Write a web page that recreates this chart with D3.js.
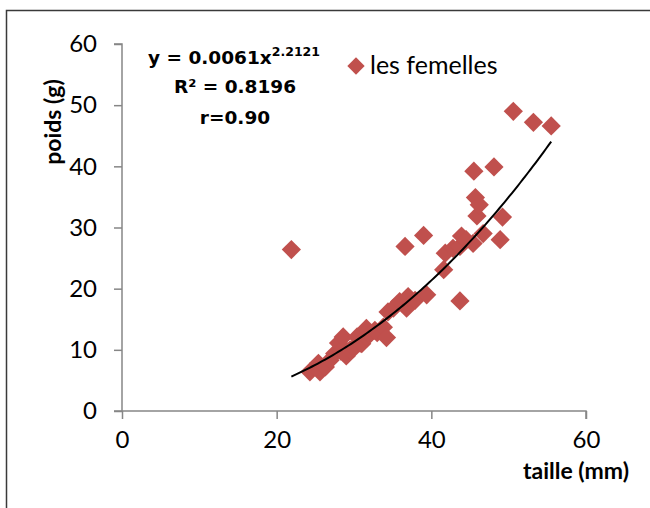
<!DOCTYPE html>
<html>
<head>
<meta charset="utf-8">
<script src="https://cdn.jsdelivr.net/npm/d3@7/dist/d3.min.js"></script>
<style>
  html, body { margin: 0; padding: 0; background: #fff; }
  svg { display: block; }
</style>
</head>
<body>
<svg id="chart" width="650" height="508"></svg>
<script>
// Females: body length (mm) vs weight (g)
const taille = [21.9, 24.3, 25.4, 25.6, 26.3, 26.9, 27.5, 28.0, 28.3, 28.6, 29.0, 29.5, 30.0, 30.4, 30.8, 31.0,
  31.6, 31.6, 32.0, 32.7, 33.0, 33.8, 34.2, 34.4, 35.1, 35.9, 36.8, 37.0, 37.9, 39.4, 36.6, 39.0,
  41.6, 41.8, 42.8, 43.7, 43.9, 43.7, 44.5, 45.4, 45.5, 45.7, 45.9, 46.2, 46.7, 48.1, 48.9, 49.2,
  50.6, 53.2, 55.5];
const poids = [26.4, 6.4, 7.8, 6.4, 7.2, 8.3, 9.4, 11.1, 9.8, 12.1, 9.0, 10.0, 10.3, 12.1, 11.1, 11.0,
  12.1, 13.5, 12.5, 13.2, 12.8, 13.7, 12.0, 16.2, 16.8, 17.9, 16.8, 18.7, 18.1, 19.0, 26.9, 28.7,
  23.1, 25.8, 26.6, 26.9, 28.6, 18.0, 28.0, 27.4, 39.2, 34.9, 31.9, 33.7, 29.0, 39.9, 28.0, 31.7,
  49.0, 47.2, 46.6];

// Power trend line y = a * x^b
const trendA = 0.0061;
const trendB = 2.2121;

const xTicks = [0, 20, 40, 60];
const yTicks = [0, 10, 20, 30, 40, 50, 60];

const seriesName = "les femelles";
const markerColor = "#C0504D";
const axisColor = "#868686";

const svg = d3.select("#chart");

// Outer frame (top and left edges)
svg.append("path")
  .attr("d", "M6.5,508 L6.5,10.5 L650,10.5")
  .attr("fill", "none")
  .attr("stroke", "#3a3a3a")
  .attr("stroke-width", 1.5);

const x = d3.scaleLinear().domain([0, 60]).range([122, 586]);
const y = d3.scaleLinear().domain([0, 60]).range([411, 44]);

// Axes
const xAxis = d3.axisBottom(x).tickValues(xTicks).tickSize(8).tickPadding(12).tickFormat(d3.format("d"));
const yAxis = d3.axisLeft(y).tickValues(yTicks).tickSize(8).tickPadding(17).tickFormat(d3.format("d"));

const gx = svg.append("g").attr("transform", `translate(0,${y(0)})`).call(xAxis);
const gy = svg.append("g").attr("transform", `translate(${x(0)},0)`).call(yAxis);

[gx, gy].forEach(g => {
  g.select(".domain").attr("stroke", axisColor).attr("stroke-width", 1.5);
  g.selectAll(".tick line").attr("stroke", axisColor).attr("stroke-width", 1.5);
  g.selectAll(".tick text")
    .attr("fill", "#000")
    .style("font-family", "Lato, 'Open Sans', sans-serif")
    .style("font-size", "24px");
});
// y axis extends left to the zero tick, x axis from the y axis corner
gx.select(".domain").attr("d", `M${x(0) - 8},0H${x(60)}V8`);
gy.select(".domain").attr("d", `M-8,${y(60)}H0V${y(0)}`);

// Markers
const diamond = d3.symbol().type(d3.symbolSquare).size(185);
svg.append("g")
  .selectAll("path")
  .data(taille.map((t, i) => [t, poids[i]]))
  .join("path")
  .attr("d", diamond)
  .attr("transform", d => `translate(${x(d[0])},${y(d[1])}) rotate(45)`)
  .attr("fill", markerColor);

// Trend line over the observed length range
const xMin = d3.min(taille), xMax = d3.max(taille);
const trendPts = d3.range(0, 101).map(i => {
  const t = xMin + (xMax - xMin) * i / 100;
  return [t, trendA * Math.pow(t, trendB)];
});
svg.append("path")
  .datum(trendPts)
  .attr("fill", "none")
  .attr("stroke", "#000")
  .attr("stroke-width", 2)
  .attr("d", d3.line().x(d => x(d[0])).y(d => y(d[1])));

// Axis titles
svg.append("text")
  .attr("transform", "translate(61,122) rotate(-90)")
  .attr("text-anchor", "middle")
  .style("font-family", "Lato, 'Open Sans', sans-serif")
  .style("font-weight", "bold")
  .style("font-size", "23px")
  .text("poids (g)");

svg.append("text")
  .attr("x", 629)
  .attr("y", 479)
  .attr("text-anchor", "end")
  .style("font-family", "Lato, 'Open Sans', sans-serif")
  .style("font-weight", "bold")
  .style("font-size", "23px")
  .text("taille (mm)");

// Regression equation
const eq = svg.append("g")
  .style("font-family", "'DejaVu Sans', sans-serif")
  .style("font-weight", "bold")
  .style("font-size", "18.5px");
const l1 = eq.append("text").attr("x", 148).attr("y", 64);
l1.append("tspan").text(`y = ${trendA}x`);
l1.append("tspan").attr("dy", -8).style("font-size", "12.5px").text(trendB);
eq.append("text").attr("x", 235).attr("y", 93).attr("text-anchor", "middle").text("R² = 0.8196");
eq.append("text").attr("x", 235).attr("y", 124).attr("text-anchor", "middle").text("r=0.90");

// Legend
const lg = svg.append("g");
lg.append("path")
  .attr("d", d3.symbol().type(d3.symbolSquare).size(150))
  .attr("transform", "translate(356,66) rotate(45)")
  .attr("fill", markerColor);
lg.append("text")
  .attr("x", 370)
  .attr("y", 74)
  .style("font-family", "Lato, 'Open Sans', sans-serif")
  .style("font-size", "25px")
  .text(seriesName);
</script>
</body>
</html>
